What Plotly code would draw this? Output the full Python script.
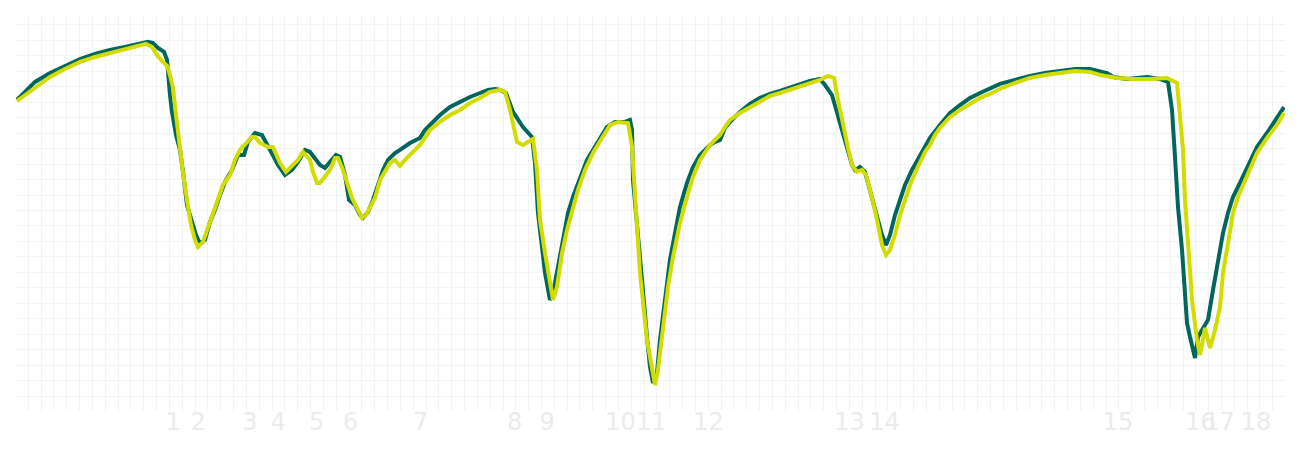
import plotly.graph_objects as go

# Distance along lap (m) and speed (km/h) for two drivers
dist_a = [8, 40, 80, 140, 200, 260, 320, 380, 440, 500, 532, 552, 572, 596, 608, 620, 628, 644, 660, 672,
          688, 708, 724, 740, 760, 780, 800, 820, 840, 868, 892, 916, 932, 960, 988, 1020, 1052, 1080, 1108, 1132,
          1160, 1180, 1200, 1220, 1240, 1260, 1284, 1300, 1320, 1336, 1360, 1380, 1392, 1412, 1432, 1452, 1472, 1492, 1520, 1540,
          1560, 1580, 1620, 1640, 1660, 1700, 1740, 1780, 1820, 1860, 1892, 1920, 1940, 1964, 1992, 2032, 2068, 2080, 2092, 2108,
          2120, 2140, 2152, 2172, 2192, 2212, 2232, 2260, 2288, 2312, 2340, 2368, 2400, 2440, 2460, 2468, 2472, 2488, 2508, 2528,
          2540, 2552, 2568, 2580, 2600, 2620, 2640, 2660, 2688, 2712, 2740, 2760, 2780, 2800, 2820, 2840, 2860, 2900, 2940, 2980,
          3020, 3060, 3100, 3140, 3180, 3220, 3240, 3268, 3292, 3312, 3332, 3348, 3360, 3380, 3400, 3420, 3444, 3468, 3484, 3500,
          3520, 3540, 3560, 3588, 3620, 3660, 3700, 3740, 3780, 3820, 3860, 3900, 3940, 4000, 4060, 4120, 4180, 4240, 4300, 4340,
          4368, 4392, 4448, 4528, 4580, 4612, 4628, 4640, 4652, 4668, 4688, 4700, 4720, 4732, 4752, 4772, 4792, 4812, 4832, 4852,
          4872, 4892, 4928, 4968, 5008, 5040, 5052, 5076]
speed_a = [252.2, 257.4, 263.9, 269.7, 274.3, 278.8, 282.1, 284.7, 286.6, 288.6, 289.9, 289.2, 286.0, 283.4, 278.2, 255.4, 244.4, 229.4, 219.7, 205.4,
           183.9, 172.9, 164.4, 158.6, 161.2, 172.9, 180.7, 190.4, 198.9, 206.7, 216.4, 216.4, 224.9, 230.7, 229.4, 219.7, 209.9, 203.4, 206.7, 211.9,
           219.7, 218.4, 214.5, 209.9, 208.0, 211.9, 216.4, 215.1, 203.4, 187.2, 183.9, 177.4, 175.5, 179.4, 187.2, 196.9, 206.7, 213.2, 217.7, 219.7,
           222.3, 224.2, 227.5, 232.7, 235.9, 242.4, 247.6, 250.9, 254.1, 256.7, 258.7, 259.3, 258.7, 256.7, 244.4, 234.6, 228.1, 211.2, 178.7, 156.6,
           139.7, 122.2, 126.7, 143.6, 161.2, 178.7, 189.1, 202.1, 213.2, 219.7, 227.5, 234.6, 237.9, 237.9, 239.2, 232.7, 200.2, 167.7, 135.2, 98.1,
           78.6, 68.2, 74.7, 96.2, 122.2, 148.2, 165.7, 182.6, 198.2, 208.6, 216.4, 219.7, 222.9, 224.9, 226.2, 234.0, 237.9, 244.4, 249.6, 253.5,
           256.1, 258.0, 260.0, 262.6, 264.5, 265.8, 261.9, 255.4, 242.4, 230.7, 219.7, 209.9, 206.7, 208.6, 205.4, 193.7, 180.7, 164.4, 157.9, 164.4,
           177.4, 187.2, 196.9, 206.7, 216.4, 227.5, 235.9, 243.7, 248.9, 253.5, 256.7, 260.0, 262.6, 265.2, 267.8, 269.7, 271.0, 272.3, 272.3, 270.4,
           269.7, 267.1, 265.8, 267.1, 265.8, 263.9, 245.7, 215.1, 182.6, 154.7, 107.2, 98.1, 84.5, 98.1, 104.0, 109.2, 128.7, 148.2, 165.7, 178.7,
           189.1, 195.6, 208.6, 221.6, 230.7, 239.2, 242.4, 247.6]

dist_b = [8, 40, 80, 140, 200, 260, 320, 380, 440, 500, 524, 548, 568, 592, 608, 620, 632, 644, 652, 672,
          688, 704, 720, 732, 752, 772, 792, 812, 832, 860, 880, 900, 924, 948, 960, 980, 1012, 1032, 1060, 1084,
          1108, 1132, 1152, 1180, 1192, 1208, 1220, 1240, 1260, 1280, 1292, 1312, 1328, 1348, 1372, 1388, 1404, 1420, 1440, 1460,
          1480, 1500, 1520, 1540, 1560, 1580, 1600, 1620, 1640, 1660, 1700, 1740, 1780, 1820, 1860, 1900, 1940, 1960, 1980, 2008,
          2032, 2072, 2088, 2100, 2120, 2140, 2152, 2168, 2188, 2208, 2228, 2252, 2280, 2312, 2348, 2380, 2412, 2452, 2468, 2480,
          2500, 2528, 2548, 2560, 2572, 2592, 2612, 2632, 2660, 2688, 2712, 2740, 2760, 2780, 2800, 2820, 2840, 2860, 2900, 2940,
          2980, 3020, 3060, 3100, 3140, 3180, 3220, 3252, 3276, 3292, 3312, 3332, 3348, 3368, 3388, 3404, 3420, 3444, 3468, 3484,
          3500, 3520, 3540, 3560, 3580, 3600, 3620, 3640, 3660, 3680, 3700, 3740, 3780, 3820, 3860, 3900, 3940, 4000, 4060, 4120,
          4180, 4240, 4300, 4340, 4408, 4472, 4540, 4608, 4648, 4660, 4672, 4680, 4692, 4708, 4728, 4740, 4760, 4780, 4800, 4820,
          4832, 4852, 4872, 4892, 4928, 4968, 5008, 5048, 5076]
speed_b = [251.5, 255.4, 260.6, 267.1, 272.3, 276.9, 280.1, 282.7, 284.7, 287.3, 288.6, 286.6, 281.4, 276.9, 274.3, 268.4, 260.0, 242.4, 230.7, 204.7,
           187.2, 170.9, 161.2, 156.6, 159.9, 169.0, 179.4, 187.2, 196.9, 203.4, 213.2, 219.7, 224.2, 228.1, 228.1, 224.2, 221.6, 221.6, 211.2, 205.4,
           209.3, 213.2, 218.4, 213.2, 205.4, 198.2, 198.2, 202.1, 206.7, 214.5, 214.5, 206.7, 198.9, 188.5, 180.7, 175.5, 177.4, 182.6, 188.5, 200.2,
           205.4, 211.2, 213.2, 209.3, 213.2, 216.4, 219.7, 222.9, 227.5, 232.7, 237.9, 242.4, 245.7, 250.2, 253.5, 257.4, 258.7, 257.4, 245.7, 224.9,
           222.9, 226.8, 206.7, 174.2, 152.7, 133.2, 122.2, 130.6, 152.7, 167.7, 180.7, 193.7, 206.7, 217.7, 227.5, 235.9, 237.9, 237.2, 221.6, 189.1,
           139.7, 96.2, 78.6, 66.9, 76.7, 104.6, 130.6, 150.1, 172.2, 189.1, 202.1, 213.2, 217.7, 222.9, 226.2, 229.4, 234.6, 239.2, 243.7, 247.6,
           251.5, 254.8, 256.7, 258.7, 261.3, 263.2, 265.2, 267.8, 266.5, 252.2, 235.9, 221.0, 209.9, 205.4, 206.7, 203.4, 193.7, 177.4, 157.9, 151.4,
           154.7, 164.4, 177.4, 187.2, 196.9, 204.7, 211.2, 218.4, 222.9, 229.4, 234.0, 241.1, 245.7, 249.6, 253.5, 256.1, 259.3, 263.2, 266.5, 268.4,
           269.7, 271.0, 270.4, 268.4, 266.5, 265.8, 265.8, 266.5, 263.2, 241.1, 219.7, 187.2, 154.7, 122.2, 96.2, 86.4, 104.0, 91.0, 102.7, 117.6,
           139.7, 161.2, 178.7, 189.1, 202.1, 217.7, 227.5, 235.9, 243.7]

corner_pos = [633, 733, 940, 1053, 1207, 1343, 1623, 1999, 2129, 2422, 2545, 2774, 3338, 3478, 4412, 4742, 4818, 4964]
corner_labels = ["1", "2", "3", "4", "5", "6", "7", "8", "9", "10", "11", "12", "13", "14", "15", "16", "17", "18"]

color_a = "#00665e"
color_b = "#d2dc00"
grid_color = "#f3f3f3"

fig = go.Figure()
fig.add_trace(go.Scatter(x=dist_a, y=speed_a, mode="lines",
                         line=dict(color=color_a, width=4), name="A"))
fig.add_trace(go.Scatter(x=dist_b, y=speed_b, mode="lines",
                         line=dict(color=color_b, width=4), name="B"))

fig.update_layout(
    width=1300, height=450,
    margin=dict(l=7, r=23, t=7, b=47),
    paper_bgcolor="white", plot_bgcolor="white",
    showlegend=False,
    font=dict(family="DejaVu Sans"),
    xaxis=dict(
        range=[0, 5080], automargin=False,
        tickmode="array", tickvals=corner_pos, ticktext=corner_labels,
        tickangle=0, ticklabelstandoff=-6,
        showgrid=False, zeroline=False, showline=False, ticks="",
        tickfont=dict(size=24, color="#ebebeb"),
        minor=dict(tickmode="linear", tick0=53.2, dtick=51.32,
                   showgrid=True, gridcolor=grid_color, gridwidth=1, ticks=""),
    ),
    yaxis=dict(
        range=[50, 307.4], automargin=False,
        tickmode="linear", tick0=59.75, dtick=10.05,
        showgrid=True, gridcolor=grid_color, gridwidth=1,
        zeroline=False, showline=False, showticklabels=False, ticks="",
    ),
)

fig.write_html("out.html")
